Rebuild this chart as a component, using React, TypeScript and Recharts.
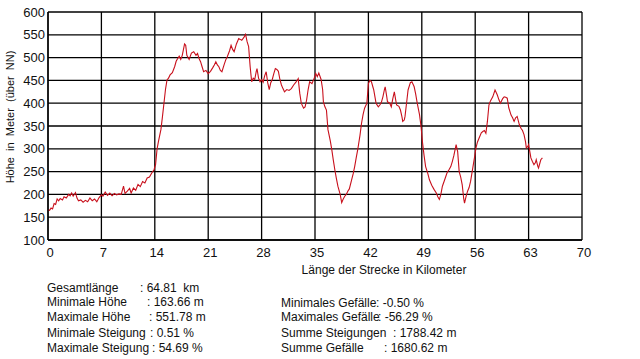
import React from "react";
import { LineChart, Line, XAxis, YAxis, CartesianGrid } from "recharts";

const km: number[] = [
  0.0, 0.2, 0.4, 0.6, 0.8, 1.0, 1.2, 1.4, 1.6, 1.9, 2.1, 2.4, 2.7, 2.9, 3.1, 3.3, 3.6, 3.8, 4.0, 4.3,
  4.6, 4.9, 5.2, 5.5, 5.8, 6.1, 6.4, 6.7, 7.0, 7.2, 7.5, 7.8, 8.1, 8.4, 8.7, 9.0, 9.3, 9.6, 9.9, 10.1,
  10.4, 10.7, 10.9, 11.2, 11.5, 11.8, 12.1, 12.4, 12.7, 13.0, 13.3, 13.6, 13.9, 14.1, 14.3, 14.5, 14.8, 15.0, 15.2, 15.4,
  15.6, 15.8, 16.0, 16.3, 16.6, 16.8, 17.0, 17.2, 17.4, 17.6, 17.9, 18.05, 18.2, 18.5, 18.8, 19.1, 19.4, 19.6, 19.8, 20.0,
  20.2, 20.4, 20.7, 21.0, 21.3, 21.6, 21.8, 22.0, 22.2, 22.4, 22.6, 22.8, 23.1, 23.3, 23.5, 23.8, 24.0, 24.2, 24.4, 24.7,
  25.0, 25.2, 25.4, 25.7, 25.9, 26.1, 26.3, 26.5, 26.7, 26.9, 27.1, 27.3, 27.4, 27.6, 27.8, 28.0, 28.2, 28.4, 28.6, 28.8,
  29.0, 29.2, 29.4, 29.6, 29.8, 30.0, 30.2, 30.4, 30.6, 30.8, 31.0, 31.3, 31.6, 31.9, 32.2, 32.5, 32.8, 33.0, 33.2, 33.5,
  33.7, 33.9, 34.1, 34.3, 34.6, 34.9, 35.1, 35.3, 35.5, 35.8, 36.0, 36.1, 36.3, 36.5, 36.7, 37.0, 37.2, 37.4, 37.6, 37.8,
  38.0, 38.3, 38.5, 38.7, 38.9, 39.1, 39.3, 39.5, 39.8, 40.0, 40.2, 40.4, 40.6, 40.9, 41.1, 41.3, 41.5, 41.8, 42.0, 42.2,
  42.4, 42.6, 42.7, 42.9, 43.0, 43.3, 43.5, 43.7, 43.9, 44.1, 44.2, 44.4, 44.5, 44.8, 45.0, 45.2, 45.4, 45.6, 45.7, 46.0,
  46.2, 46.4, 46.5, 46.7, 46.8, 47.0, 47.2, 47.5, 47.7, 47.9, 48.0, 48.2, 48.4, 48.7, 48.9, 49.1, 49.3, 49.5, 49.8, 50.0,
  50.3, 50.6, 50.9, 51.1, 51.3, 51.5, 51.7, 52.0, 52.3, 52.6, 52.8, 53.0, 53.2, 53.5, 53.7, 53.9, 54.1, 54.3, 54.5, 54.6,
  54.8, 55.0, 55.2, 55.4, 55.7, 55.9, 56.1, 56.3, 56.5, 56.8, 57.0, 57.2, 57.4, 57.6, 57.8, 58.0, 58.3, 58.6, 58.8, 58.9,
  59.1, 59.3, 59.6, 59.8, 60.0, 60.2, 60.4, 60.7, 60.9, 61.1, 61.3, 61.5, 61.8, 62.0, 62.2, 62.4, 62.6, 62.7, 62.9, 63.0,
  63.2, 63.3, 63.5, 63.7, 63.9, 64.0, 64.2, 64.3, 64.5, 64.6, 64.81,
];

const hoehe: number[] = [
  166, 165, 170, 168, 180, 178, 190, 186, 191, 188, 195, 192, 200, 197, 203, 196, 204, 192, 186, 188,
  183, 187, 184, 192, 186, 190, 184, 193, 199, 196, 205, 198, 203, 197, 202, 199, 201, 200, 218, 202,
  207, 213, 203, 214, 209, 222, 217, 228, 225, 236, 238, 247, 254, 265, 300, 318, 342, 370, 400, 430,
  451, 455, 462, 467, 480, 492, 498, 503, 496, 505, 530, 527, 505, 496, 510, 513, 505, 509, 498, 491,
  480, 469, 472, 465, 470, 478, 484, 491, 484, 480, 472, 469, 485, 495, 502, 515, 527, 518, 513, 530,
  542, 540, 538, 545, 551, 535, 524, 480, 447, 455, 452, 470, 476, 455, 447, 452, 446, 460, 469, 445,
  430, 445, 452, 465, 476, 474, 470, 452, 440, 432, 425, 430, 428, 432, 440, 446, 454, 422, 400, 389,
  392, 407, 430, 447, 443, 455, 465, 458, 466, 452, 430, 403, 392, 385, 342, 318, 298, 275, 254, 235,
  218, 200, 182, 190, 196, 200, 207, 212, 232, 245, 261, 280, 298, 330, 356, 375, 389, 400, 443, 450,
  447, 435, 429, 410, 400, 392, 396, 402, 414, 430, 436, 415, 403, 400, 392, 410, 425, 405, 396, 393,
  385, 370, 360, 363, 371, 400, 429, 445, 447, 440, 436, 420, 400, 375, 349, 313, 285, 261, 245, 232,
  220, 211, 203, 195, 189, 200, 218, 232, 247, 255, 261, 272, 285, 309, 294, 250, 238, 221, 190, 181,
  195, 207, 215, 229, 260, 280, 302, 315, 323, 335, 338, 340, 334, 360, 396, 405, 414, 429, 422, 418,
  408, 400, 410, 414, 413, 411, 390, 374, 368, 360, 368, 371, 352, 345, 340, 331, 315, 302, 305, 309,
  290, 280, 272, 265, 270, 276, 262, 258, 270, 276, 280,
];

const xTicks: number[] = [0, 7, 14, 21, 28, 35, 42, 49, 56, 63, 70];
const yTicks: number[] = [100, 150, 200, 250, 300, 350, 400, 450, 500, 550, 600];

const statsLeft: [string, string][] = [
  ["Gesamtlänge", ": 64.81  km"],
  ["Minimale Höhe", ": 163.66 m"],
  ["Maximale Höhe", ": 551.78 m"],
  ["Minimale Steigung", ": 0.51 %"],
  ["Maximale Steigung", ": 54.69 %"],
];
const statsRight: [string, string][] = [
  ["Minimales Gefälle", ": -0.50 %"],
  ["Maximales Gefälle", ": -56.29 %"],
  ["Summe Steigungen", ": 1788.42 m"],
  ["Summe Gefälle", ": 1680.62 m"],
];

const data = km.map((k, i) => ({ km: k, h: hoehe[i] }));

const FONT = "'Liberation Sans', Arial, sans-serif";

const XTick = (props: any) => {
  const { x, payload } = props;
  return (
    <text x={x + 2} y={257} textAnchor="middle" fontSize={13} fill="#111" fontFamily={FONT}>
      {payload.value}
    </text>
  );
};

const YTick = (props: any) => {
  const { y, payload } = props;
  return (
    <text x={45} y={y} dy={4.5} textAnchor="end" fontSize={13} fill="#111" fontFamily={FONT}>
      {payload.value}
    </text>
  );
};

const leftColonX = [140, 147, 149, 150, 152];
const leftRowY = [288, 302, 317, 333, 348];
const rightColonX = [376, 378, 393, 384];
const rightRowY = [303, 317, 333, 348];

export default function App() {
  return (
    <div
      style={{
        position: "absolute",
        left: 0,
        top: 0,
        width: 640,
        height: 359,
        background: "#fff",
        fontFamily: FONT,
        color: "#111",
      }}
    >
      <LineChart width={640} height={359} data={data} margin={{ top: 12, right: 58, left: 0, bottom: 99 }}>
        <CartesianGrid stroke="#000" strokeWidth={1.3} />
        <XAxis
          dataKey="km"
          type="number"
          domain={[0, 70]}
          ticks={xTicks}
          height={20}
          axisLine={{ stroke: "#000", strokeWidth: 1.3 }}
          tickLine={false}
          tick={<XTick />}
          interval={0}
        />
        <YAxis
          type="number"
          domain={[100, 600]}
          ticks={yTicks}
          width={48}
          axisLine={{ stroke: "#000", strokeWidth: 1.3 }}
          tickLine={false}
          tick={<YTick />}
          interval={0}
        />
        <Line
          type="linear"
          dataKey="h"
          stroke="#c8101c"
          strokeWidth={1.1}
          dot={false}
          isAnimationActive={false}
        />
      </LineChart>
      <div
        style={{
          position: "absolute",
          left: 10,
          top: 117,
          transform: "translate(-50%, -50%) rotate(-90deg)",
          fontSize: 11,
          whiteSpace: "pre",
        }}
      >
        {"Höhe  in  Meter  (über  NN)"}
      </div>
      <div
        style={{
          position: "absolute",
          left: 384,
          top: 270,
          transform: "translate(-50%, -50%)",
          fontSize: 12,
          whiteSpace: "pre",
        }}
      >
        Länge der Strecke in Kilometer
      </div>
      {statsLeft.map(([label, value], i) => (
        <React.Fragment key={"l" + i}>
          <div style={{ position: "absolute", left: 47, top: leftRowY[i] - 7, fontSize: 12, lineHeight: "14px", whiteSpace: "pre" }}>
            {label}
          </div>
          <div style={{ position: "absolute", left: leftColonX[i], top: leftRowY[i] - 7, fontSize: 12, lineHeight: "14px", whiteSpace: "pre" }}>
            {value}
          </div>
        </React.Fragment>
      ))}
      {statsRight.map(([label, value], i) => (
        <React.Fragment key={"r" + i}>
          <div style={{ position: "absolute", left: 281, top: rightRowY[i] - 7, fontSize: 12, lineHeight: "14px", whiteSpace: "pre" }}>
            {label}
          </div>
          <div style={{ position: "absolute", left: rightColonX[i], top: rightRowY[i] - 7, fontSize: 12, lineHeight: "14px", whiteSpace: "pre" }}>
            {value}
          </div>
        </React.Fragment>
      ))}
    </div>
  );
}
